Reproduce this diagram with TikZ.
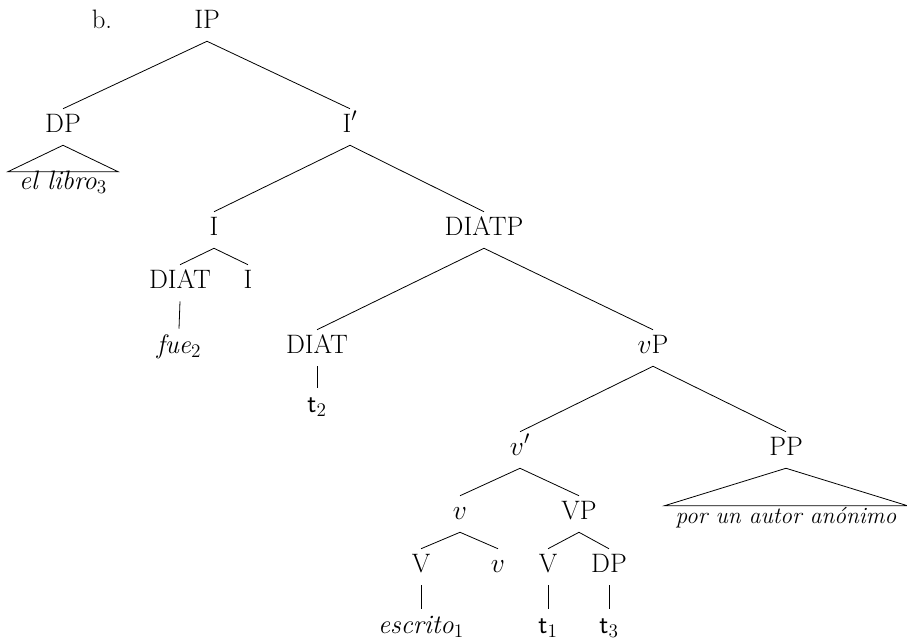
\documentclass[tikz,border=0pt]{standalone}
\begin{document}
\begin{tikzpicture}[x=0.75pt,y=-0.75pt,
  every node/.style={font=\fontsize{20}{24}\selectfont, inner sep=0pt, anchor=base},
  cat/.style={text height=17.25pt, text depth=9.75pt},
  term/.style={text height=18pt, text depth=4pt},
  roofterm/.style={text height=12.75pt, text depth=4pt, inner xsep=8.25pt},
  br/.style={line width=0.6pt}]
\useasboundingbox (0,0) rectangle (907,640);
\node (lbl) at (102,28) {b.};
\node[cat] (IP) at (207,28) {IP};
\node[cat] (DP) at (63,132) {DP};
\node[cat] (Ib) at (350,132) {I$'$};
\node[roofterm] (ellibro) at (63,189) {\textit{el libro}$_3$};
\node[cat] (I) at (214,235) {I};
\node[cat] (DIATP) at (484,235) {DIATP};
\node[cat] (DIATa) at (180,288) {DIAT};
\node[cat] (Iz) at (248,288) {I};
\node[term] (fue) at (179,353) {\textit{fue}$_2$};
\node[cat] (DIATb) at (317,353) {DIAT};
\node[cat] (vP) at (653,353) {$v$P};
\node[term] (tb) at (317,412) {\textsf{t}$_2$};
\node[cat] (vbar) at (520,455) {$v'$};
\node[cat] (PP) at (786,455) {PP};
\node[roofterm, font=\fontsize{17.5}{21}\selectfont] (por) at (786,523) {\textit{por un autor an\'onimo}};
\node[cat] (v) at (460,519) {$v$};
\node[cat] (VP) at (579,519) {VP};
\node[cat] (Va) at (421,572) {V};
\node[cat] (vz) at (498,572) {$v$};
\node[cat] (Vb) at (548,572) {V};
\node[cat] (DPb) at (609,572) {DP};
\node[term] (escrito) at (421,633) {\textit{escrito}$_1$};
\node[term] (ta) at (548,633) {\textsf{t}$_1$};
\node[term] (tc) at (609,633) {\textsf{t}$_3$};
\draw[br] (IP.south) -- (DP.north);
\draw[br] (IP.south) -- (Ib.north);
\draw[br] (Ib.south) -- (I.north);
\draw[br] (Ib.south) -- (DIATP.north);
\draw[br] (I.south) -- (DIATa.north);
\draw[br] (I.south) -- (Iz.north);
\draw[br] (DIATa.south) -- (fue.north);
\draw[br] (DIATP.south) -- (DIATb.north);
\draw[br] (DIATP.south) -- (vP.north);
\draw[br] (DIATb.south) -- (tb.north);
\draw[br] (vP.south) -- (vbar.north);
\draw[br] (vP.south) -- (PP.north);
\draw[br] (vbar.south) -- (v.north);
\draw[br] (vbar.south) -- (VP.north);
\draw[br] (v.south) -- (Va.north);
\draw[br] (v.south) -- (vz.north);
\draw[br] (VP.south) -- (Vb.north);
\draw[br] (VP.south) -- (DPb.north);
\draw[br] (Va.south) -- (escrito.north);
\draw[br] (Vb.south) -- (ta.north);
\draw[br] (DPb.south) -- (tc.north);
\draw[br] (DP.south) -- (ellibro.north west) -- (ellibro.north east) -- cycle;
\draw[br] (PP.south) -- (por.north west) -- (por.north east) -- cycle;
\end{tikzpicture}
\end{document}
